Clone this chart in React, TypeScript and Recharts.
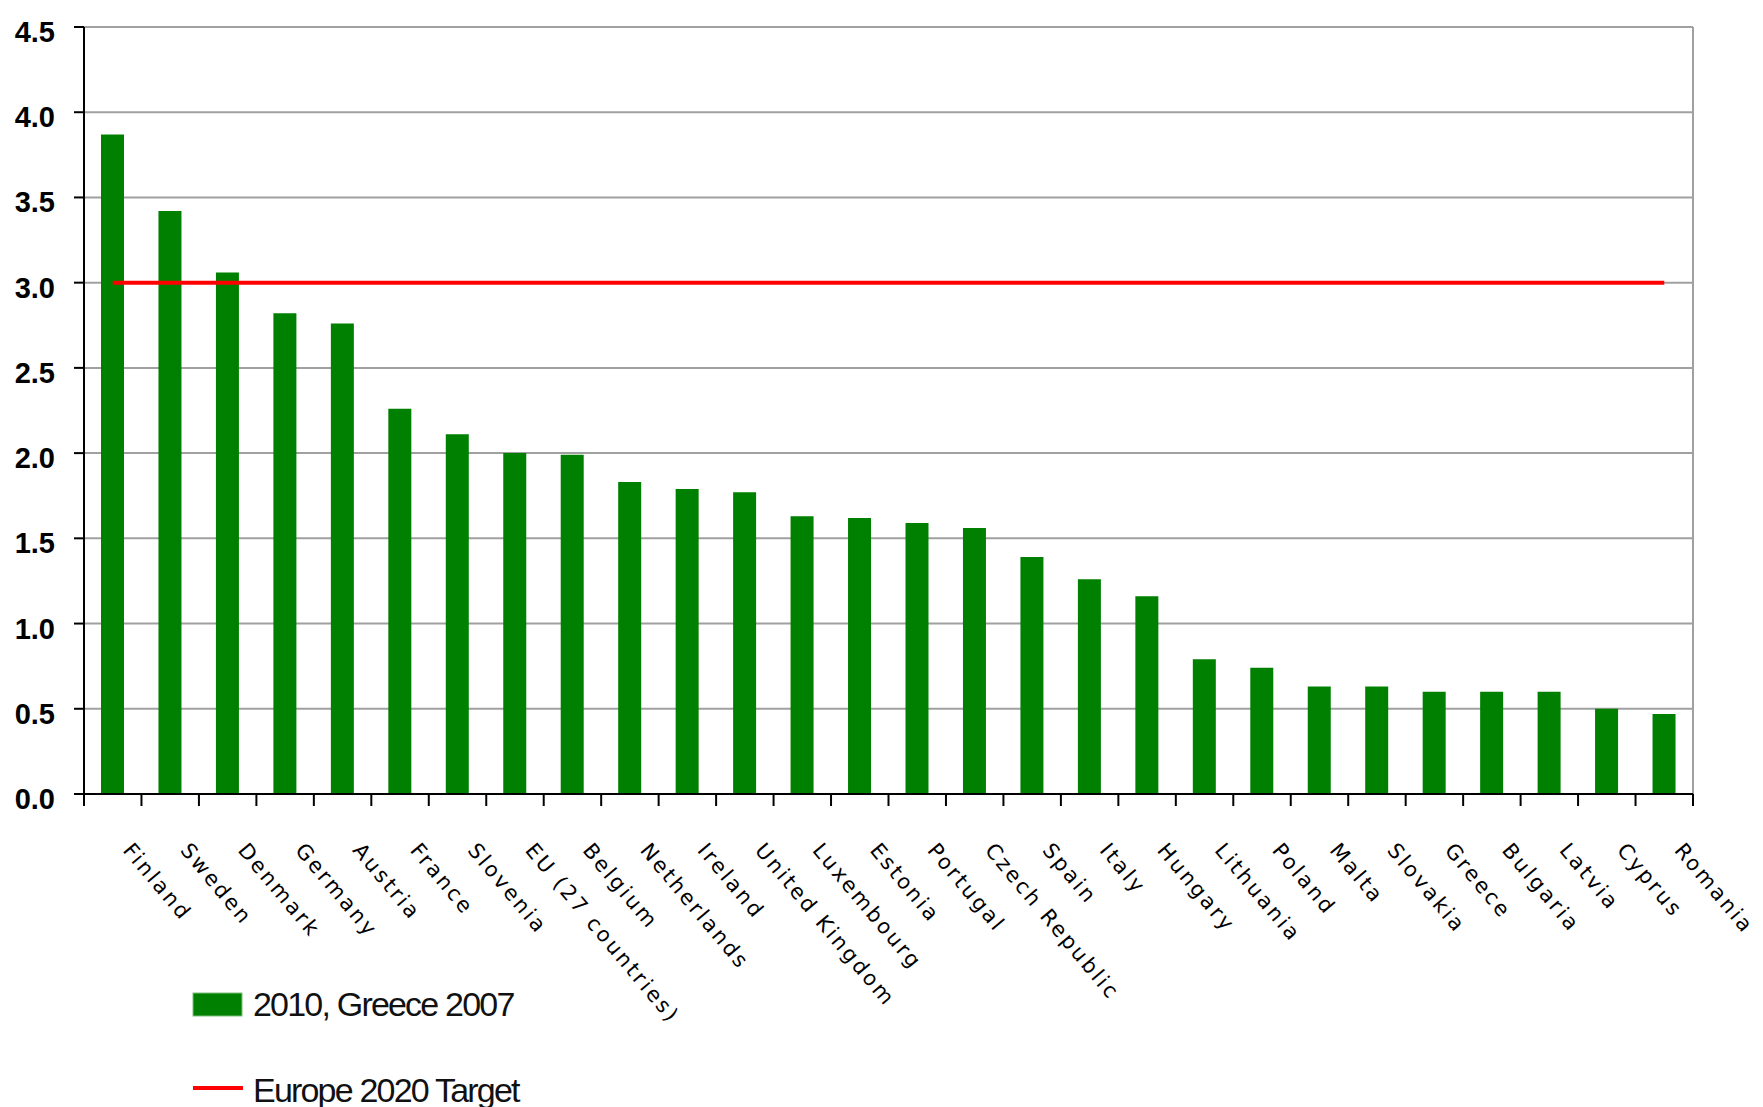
import React from 'react';
import { ComposedChart, Bar, Line, XAxis, YAxis, CartesianGrid, Legend } from 'recharts';

const countries = [
  'Finland', 'Sweden', 'Denmark', 'Germany', 'Austria', 'France', 'Slovenia',
  'EU (27 countries)', 'Belgium', 'Netherlands', 'Ireland', 'United Kingdom',
  'Luxembourg', 'Estonia', 'Portugal', 'Czech Republic', 'Spain', 'Italy',
  'Hungary', 'Lithuania', 'Poland', 'Malta', 'Slovakia', 'Greece', 'Bulgaria',
  'Latvia', 'Cyprus', 'Romania',
];
const rdValues = [
  3.87, 3.42, 3.06, 2.82, 2.76, 2.26, 2.11, 2.0, 1.99, 1.83, 1.79, 1.77, 1.63,
  1.62, 1.59, 1.56, 1.39, 1.26, 1.16, 0.79, 0.74, 0.63, 0.63, 0.6, 0.6, 0.6, 0.5, 0.47,
];
const targetValue = 3.0;
const yTicks = [0, 0.5, 1.0, 1.5, 2.0, 2.5, 3.0, 3.5, 4.0, 4.5];
const seriesNames = ['2010, Greece 2007', 'Europe 2020 Target'];

const data = countries.map((c, i) => ({ country: c, value: rdValues[i], target: targetValue }));

const W = 1763;
const H = 1107;
const MARGIN = { top: 27, right: 70, bottom: 0, left: 0 };
const Y_AXIS_W = 84;
const X_AXIS_H = 313;
const PLOT_W = W - MARGIN.right - MARGIN.left - Y_AXIS_W;
const BAND = PLOT_W / countries.length;

const XTick = (props: any) => {
  const { x, y, payload, index } = props;
  const half = BAND / 2;
  return (
    <g>
      {index === 0 && (
        <line x1={x - half} x2={x - half} y1={y} y2={y + 12} stroke="#000" strokeWidth={2} />
      )}
      <line x1={x + half} x2={x + half} y1={y} y2={y + 12} stroke="#000" strokeWidth={2} />
      <text
        transform={`translate(${x + 21},${y + 47}) rotate(50)`}
        dy="0.73em"
        fontFamily="DejaVu Sans"
        fontSize={21}
        letterSpacing={2.6}
        fill="#000"
        textAnchor="start"
      >
        {payload.value}
      </text>
    </g>
  );
};

const YTick = (props: any) => {
  const { x, y, payload } = props;
  return (
    <text
      x={x}
      y={y}
      dy={15}
      textAnchor="end"
      fontFamily="Liberation Sans"
      fontWeight="bold"
      fontSize={29}
      fill="#000"
    >
      {Number(payload.value).toFixed(1)}
    </text>
  );
};

const LegendContent = (props: any) => {
  const payload = props.payload || [];
  const barItem = payload.find((p: any) => p.dataKey === 'value');
  const lineItem = payload.find((p: any) => p.dataKey === 'target');
  return (
    <svg width={420} height={117} style={{ overflow: 'visible' }}>
      <rect x={0} y={3} width={49} height={23} fill={barItem?.color || '#008000'} stroke="#7fbf7f" strokeWidth={1} />
      <text x={60} y={26} fontFamily="Liberation Sans" fontSize={34} letterSpacing={-1.8} fill="#111">
        {barItem?.value || seriesNames[0]}
      </text>
      <line x1={0} x2={50} y1={98} y2={98} stroke={lineItem?.color || '#ff0000'} strokeWidth={4} />
      <text x={60} y={112} fontFamily="Liberation Sans" fontSize={34} letterSpacing={-1.8} fill="#111">
        {lineItem?.value || seriesNames[1]}
      </text>
    </svg>
  );
};

export default function App() {
  return (
    <div style={{ position: 'absolute', left: 0, top: 0, width: W, height: H, background: '#fff' }}>
      <ComposedChart width={W} height={H} data={data} margin={MARGIN}>
        <CartesianGrid
          stroke="#a0a0a0"
          strokeWidth={2}
          vertical={true}
          verticalCoordinatesGenerator={({ offset }: any) => [offset.left + offset.width]}
        />
        <XAxis
          dataKey="country"
          interval={0}
          height={X_AXIS_H}
          tick={<XTick />}
          tickLine={false}
          tickSize={0}
          tickMargin={0}
          axisLine={{ stroke: '#000', strokeWidth: 2 }}
        />
        <YAxis
          width={Y_AXIS_W}
          domain={[0, 4.5]}
          ticks={yTicks}
          interval={0}
          tick={<YTick />}
          tickSize={10}
          tickMargin={19}
          tickLine={{ stroke: '#000', strokeWidth: 2 }}
          axisLine={{ stroke: '#000', strokeWidth: 2 }}
        />
        <Legend
          layout="vertical"
          align="center"
          verticalAlign="middle"
          wrapperStyle={{ left: 193, top: 990, width: 420, height: 117 }}
          content={<LegendContent />}
        />
        <Bar
          dataKey="value"
          name={seriesNames[0]}
          fill="#008000"
          barSize={23}
          isAnimationActive={false}
        />
        <Line
          dataKey="target"
          name={seriesNames[1]}
          stroke="#ff0000"
          strokeWidth={4}
          dot={false}
          activeDot={false}
          legendType="line"
          isAnimationActive={false}
        />
      </ComposedChart>
    </div>
  );
}
